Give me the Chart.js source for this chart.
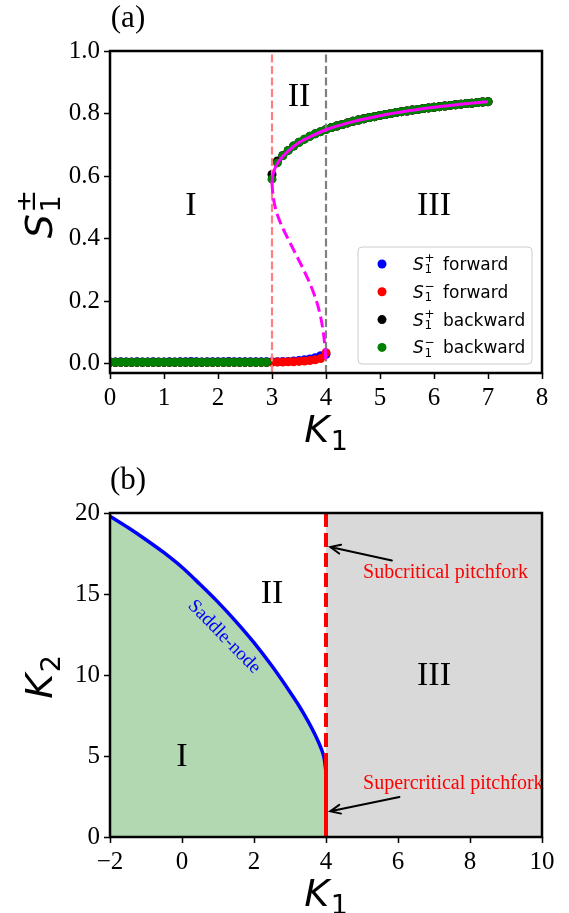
<!DOCTYPE html>
<html>
<head>
<meta charset="utf-8">
<script src="https://cdn.jsdelivr.net/npm/chart.js@4.4.0/dist/chart.umd.min.js"></script>
<style>
  html, body { margin: 0; padding: 0; background: #fff; }
  #wrap { position: relative; width: 569px; height: 913px; }
  .panel { position: absolute; left: 0; width: 569px; }
</style>
</head>
<body>
<div id="wrap">
  <div class="panel" style="top:0;height:456px"><canvas id="chartA"></canvas></div>
  <div class="panel" style="top:456px;height:457px"><canvas id="chartB"></canvas></div>
</div>
<script>
// ---- panel (a): order parameter vs K1 ----
const kGrid = [0,0.1,0.2,0.3,0.4,0.5,0.6,0.7,0.8,0.9,1,1.1,1.2,1.3,1.4,1.5,1.6,1.7,1.8,1.9,
  2,2.1,2.2,2.3,2.4,2.5,2.6,2.7,2.8,2.9,3,3.1,3.2,3.3,3.4,3.5,3.6,3.7,3.8,3.9,
  4,4.1,4.2,4.3,4.4,4.5,4.6,4.7,4.8,4.9,5,5.1,5.2,5.3,5.4,5.5,5.6,5.7,5.8,5.9,
  6,6.1,6.2,6.3,6.4,6.5,6.6,6.7,6.8,6.9,7];

const splusForward = [0.005,0.005,0.006,0.005,0.005,0.006,0.005,0.005,0.006,0.005,
  0.005,0.006,0.005,0.006,0.006,0.007,0.006,0.005,0.006,0.006,
  0.006,0.006,0.007,0.006,0.006,0.006,0.006,0.006,0.006,0.006,
  0.006,0.006,0.007,0.007,0.008,0.010,0.012,0.015,0.019,0.025,
  0.030,
  0.755,0.760,0.765,0.770,0.775,0.779,0.783,0.787,0.790,0.794,
  0.797,0.800,0.803,0.806,0.808,0.811,0.813,0.816,0.818,0.820,
  0.822,0.824,0.826,0.828,0.830,0.832,0.833,0.835,0.837,0.838];

const sminusForward = [0.004,0.004,0.004,0.004,0.004,0.004,0.004,0.004,0.004,0.004,
  0.004,0.004,0.004,0.004,0.004,0.004,0.004,0.004,0.004,0.004,
  0.004,0.004,0.004,0.004,0.004,0.004,0.004,0.004,0.004,0.004,
  0.004,0.005,0.005,0.006,0.006,0.007,0.008,0.010,0.012,0.016,
  0.035,
  0.755,0.760,0.765,0.770,0.775,0.779,0.783,0.787,0.790,0.794,
  0.797,0.800,0.803,0.806,0.808,0.811,0.813,0.816,0.818,0.820,
  0.822,0.824,0.826,0.828,0.830,0.832,0.833,0.835,0.837,0.838];

const splusBackward = [0.004,0.004,0.004,0.004,0.004,0.004,0.004,0.004,0.004,0.004,
  0.004,0.004,0.004,0.004,0.004,0.004,0.004,0.004,0.004,0.004,
  0.004,0.004,0.004,0.004,0.004,0.004,0.004,0.004,0.004,0.004,
  0.605,0.648,0.666,0.682,0.696,0.708,0.718,0.727,0.735,0.742,
  0.749,
  0.755,0.760,0.765,0.770,0.775,0.779,0.783,0.787,0.790,0.794,
  0.797,0.800,0.803,0.806,0.808,0.811,0.813,0.816,0.818,0.820,
  0.822,0.824,0.826,0.828,0.830,0.832,0.833,0.835,0.837,0.838];

const sminusBackward = [0.004,0.004,0.004,0.004,0.004,0.004,0.004,0.004,0.004,0.004,
  0.004,0.004,0.004,0.004,0.004,0.004,0.004,0.004,0.004,0.004,
  0.004,0.004,0.004,0.004,0.004,0.004,0.004,0.004,0.004,0.004,
  0.590,0.642,0.665,0.682,0.696,0.708,0.718,0.727,0.735,0.742,
  0.749,
  0.755,0.760,0.765,0.770,0.775,0.779,0.783,0.787,0.790,0.794,
  0.797,0.800,0.803,0.806,0.808,0.811,0.813,0.816,0.818,0.820,
  0.822,0.824,0.826,0.828,0.830,0.832,0.833,0.835,0.837,0.838];

// theory curves (stable upper branch, unstable middle branch)
const stableK = [3.0,3.01,3.03,3.06,3.1,3.2,3.3,3.5,3.75,4.0,4.5,5.0,5.5,6.0,6.5,7.0];
const stableS = [0.58,0.598,0.612,0.627,0.640,0.663,0.680,0.707,0.729,0.748,0.774,0.793,0.808,0.820,0.830,0.838];
const unstableK = [3.0,3.01,3.03,3.07,3.13,3.2,3.3,3.4,3.5,3.6,3.7,3.78,3.85,3.9,3.94,3.97,4.0];
const unstableS = [0.58,0.553,0.525,0.493,0.462,0.433,0.398,0.364,0.330,0.295,0.257,0.222,0.185,0.150,0.112,0.072,0.010];

const boundaryK = [3, 4];
const yLimA = [-0.03, 1.0];
const xTicksA = [0,1,2,3,4,5,6,7,8];
const yTicksA = [0,0.2,0.4,0.6,0.8,1.0];
const regionNames = ['I', 'II', 'III'];
const regionXA = [1.5, 3.5, 6.0];
const regionYA = [0.51, 0.86, 0.51];
const legendSup = ['+', '\u2212', '+', '\u2212'];
const legendWord = ['forward', 'forward', 'backward', 'backward'];
const legendColors = ['#0000ff', '#ff0000', '#000000', '#008000'];

// ---- panel (b): phase diagram in (K1, K2) ----
const saddleK1 = [-2,-1.5,-1,-0.5,0,0.5,1,1.5,2,2.5,3,3.25,3.5,3.7,3.85,3.95,4.0];
const saddleK2 = [19.8,19.1,18.35,17.55,16.65,15.6,14.5,13.3,12.0,10.55,8.95,8.1,7.15,6.3,5.55,4.85,4.0];
const superK2 = [0, 5];
const subK2 = [20, 5];
const grayK1 = [4, 10];
const grayK2 = [20, 20];
const xTicksB = [-2,0,2,4,6,8,10];
const yTicksB = [0,5,10,15,20];
const regionXB = [0, 2.5, 7];
const regionYB = [5.05, 15.15, 10.1];
const noteText = ['Subcritical pitchfork', 'Supercritical pitchfork'];
const noteX = [5.03, 5.03];
const noteY = [16.33, 3.3];
const arrowTailX = [5.83, 6.04];
const arrowTailY = [17.07, 2.47];
const arrowHeadX = [4.12, 4.12];
const arrowHeadY = [17.9, 1.59];
const saddleLabel = 'Saddle-node';
const saddleLabelAt = [1.17, 12.35];

const SERIF = '"Liberation Serif", "Times New Roman", serif';
const SANS = '"DejaVu Sans", sans-serif';

function pts(xs, ys) {
  return xs.map((x, i) => ({ x: x, y: ys[i] }));
}

function dots(label, ys, color, order) {
  return {
    label: label, data: pts(kGrid, ys), order: order,
    backgroundColor: color, borderColor: color,
    pointRadius: 4.5, pointBorderWidth: 0, showLine: false
  };
}

function lineSet(label, xs, ys, color, width, dash, order) {
  return {
    label: label, data: pts(xs, ys), order: order, showLine: true,
    borderColor: color, borderWidth: width, borderDash: dash || [],
    pointRadius: 0, fill: false
  };
}

function tickAxis(min, max, ticks, fmt, size, isX) {
  const axis = {
    type: 'linear', min: min, max: max,
    afterBuildTicks: s => { s.ticks = ticks.map(v => ({ value: v })); },
    border: { display: false },
    grid: { display: true, drawOnChartArea: false, drawTicks: true, tickLength: 6,
            tickColor: '#000', tickWidth: 1.5, color: '#000' },
    ticks: { color: '#000', font: { family: SERIF, size: 25 }, padding: 4,
             autoSkip: false, maxRotation: 0, callback: fmt }
  };
  if (isX) axis.afterFit = s => { s.height = size; };
  else axis.afterFit = s => { s.width = size; };
  return axis;
}

// math text: italic base with roman sub/superscript
function measureMath(ctx, base, sub, sup, size) {
  ctx.font = 'italic ' + size + 'px ' + SANS;
  const wb = ctx.measureText(base).width;
  ctx.font = Math.round(size * 0.7) + 'px ' + SANS;
  const ws = Math.max(sub ? ctx.measureText(sub).width : 0, sup ? ctx.measureText(sup).width : 0);
  return { wb: wb, total: wb + size * 0.04 + ws };
}

function drawMath(ctx, base, sub, sup, x, y, size) {
  const m = measureMath(ctx, base, sub, sup, size);
  ctx.textAlign = 'left';
  ctx.textBaseline = 'alphabetic';
  ctx.fillStyle = '#000';
  ctx.font = 'italic ' + size + 'px ' + SANS;
  ctx.fillText(base, x, y);
  ctx.font = Math.round(size * 0.7) + 'px ' + SANS;
  const sx = x + m.wb + size * 0.04;
  if (sub) ctx.fillText(sub, sx, y + size * 0.2);
  if (sup) ctx.fillText(sup, sx, y - size * 0.45);
  return m.total;
}

function drawXTitle(chart, base, sub) {
  const { ctx, chartArea: a } = chart;
  ctx.save();
  const m = measureMath(ctx, base, sub, null, 38);
  drawMath(ctx, base, sub, null, (a.left + a.right) / 2 - m.total / 2, a.bottom + 69, 38);
  ctx.restore();
}

function drawYTitle(chart, base, sub, sup) {
  const { ctx, chartArea: a } = chart;
  ctx.save();
  ctx.translate(52, (a.top + a.bottom) / 2 + 2);
  ctx.rotate(-Math.PI / 2);
  const m = measureMath(ctx, base, sub, sup, 38);
  drawMath(ctx, base, sub, sup, -m.total / 2, 0, 38);
  ctx.restore();
}

function drawFrame(chart) {
  const { ctx, chartArea: a } = chart;
  ctx.save();
  ctx.strokeStyle = '#000';
  ctx.lineWidth = 2.5;
  ctx.strokeRect(a.left, a.top, a.right - a.left, a.bottom - a.top);
  ctx.restore();
}

function drawPanelTag(chart, tag) {
  const { ctx, chartArea: a } = chart;
  ctx.save();
  ctx.font = '31px ' + SERIF;
  ctx.fillStyle = '#000';
  ctx.textAlign = 'center';
  ctx.textBaseline = 'middle';
  ctx.fillText(tag, a.left + 18, a.top - 32);
  ctx.restore();
}

function drawRegions(chart, xs, ys) {
  const { ctx, scales } = chart;
  ctx.save();
  ctx.font = '34px ' + SERIF;
  ctx.fillStyle = '#000';
  ctx.textAlign = 'center';
  ctx.textBaseline = 'alphabetic';
  regionNames.forEach((t, i) => {
    ctx.fillText(t, scales.x.getPixelForValue(xs[i]), scales.y.getPixelForValue(ys[i]) + 34 * 0.33);
  });
  ctx.restore();
}

function drawLegend(chart) {
  const { ctx, chartArea: a } = chart;
  const w = 174, h = 117;
  const left = a.right - 10 - w, top = a.bottom - 9 - h;
  ctx.save();
  ctx.beginPath();
  ctx.roundRect(left, top, w, h, 4);
  ctx.fillStyle = 'rgba(255,255,255,0.8)';
  ctx.fill();
  ctx.strokeStyle = '#cccccc';
  ctx.lineWidth = 1;
  ctx.stroke();
  legendWord.forEach((word, i) => {
    const cy = top + 17 + i * 27.8;
    ctx.beginPath();
    ctx.arc(left + 24, cy, 4.5, 0, Math.PI * 2);
    ctx.fillStyle = legendColors[i];
    ctx.fill();
    drawMath(ctx, 'S', '1', legendSup[i], left + 55, cy + 6, 17);
    ctx.font = '17px ' + SANS;
    ctx.fillText(word, left + 85, cy + 6);
  });
  ctx.restore();
}

const decorA = {
  id: 'decorA',
  afterDatasetsDraw(chart) {
    drawRegions(chart, regionXA, regionYA);
  },
  afterDraw(chart) {
    drawFrame(chart);
    drawLegend(chart);
    drawXTitle(chart, 'K', '1');
    drawYTitle(chart, 'S', '1', '\u00b1');
    drawPanelTag(chart, '(a)');
  }
};

const decorB = {
  id: 'decorB',
  afterDatasetsDraw(chart) {
    const { ctx, scales } = chart;
    drawRegions(chart, regionXB, regionYB);
    ctx.save();
    // notes
    ctx.font = '20px ' + SERIF;
    ctx.fillStyle = '#ff0000';
    ctx.textAlign = 'left';
    ctx.textBaseline = 'middle';
    noteText.forEach((t, i) => {
      ctx.fillText(t, scales.x.getPixelForValue(noteX[i]), scales.y.getPixelForValue(noteY[i]));
    });
    // arrows
    ctx.strokeStyle = '#000';
    ctx.lineWidth = 2;
    ctx.lineCap = 'round';
    arrowTailX.forEach((tx, i) => {
      const x0 = scales.x.getPixelForValue(tx), y0 = scales.y.getPixelForValue(arrowTailY[i]);
      const x1 = scales.x.getPixelForValue(arrowHeadX[i]), y1 = scales.y.getPixelForValue(arrowHeadY[i]);
      const ang = Math.atan2(y1 - y0, x1 - x0);
      ctx.beginPath();
      ctx.moveTo(x0, y0);
      ctx.lineTo(x1, y1);
      ctx.moveTo(x1 - 11 * Math.cos(ang - 0.42), y1 - 11 * Math.sin(ang - 0.42));
      ctx.lineTo(x1, y1);
      ctx.lineTo(x1 - 11 * Math.cos(ang + 0.42), y1 - 11 * Math.sin(ang + 0.42));
      ctx.stroke();
    });
    // label along the saddle-node curve
    ctx.translate(scales.x.getPixelForValue(saddleLabelAt[0]), scales.y.getPixelForValue(saddleLabelAt[1]));
    ctx.rotate(45.6 * Math.PI / 180);
    ctx.font = '19px ' + SERIF;
    ctx.fillStyle = '#0000ff';
    ctx.textAlign = 'center';
    ctx.fillText(saddleLabel, 0, 0);
    ctx.restore();
  },
  afterDraw(chart) {
    drawFrame(chart);
    drawXTitle(chart, 'K', '1');
    drawYTitle(chart, 'K', '2', null);
    drawPanelTag(chart, '(b)');
  }
};

const minusFmt = v => (v < 0 ? '\u2212' + Math.abs(v) : String(v));
const smooth = { cubicInterpolationMode: 'monotone' };

new Chart(document.getElementById('chartA'), {
  type: 'scatter',
  data: {
    datasets: [
      Object.assign(lineSet('stable', stableK, stableS, '#ff00ff', 3, null, 0), smooth),
      Object.assign(lineSet('unstable', unstableK, unstableS, '#ff00ff', 3, [11, 5], 1), smooth),
      lineSet('K1=4', [boundaryK[1], boundaryK[1]], yLimA, '#808080', 2.2, [8, 3.5], 2),
      lineSet('K1=3', [boundaryK[0], boundaryK[0]], yLimA, '#ff8080', 2.2, [8, 3.5], 3),
      dots('S1- backward', sminusBackward, '#008000', 4),
      dots('S1+ backward', splusBackward, '#000000', 5),
      dots('S1- forward', sminusForward, '#ff0000', 6),
      dots('S1+ forward', splusForward, '#0000ff', 7)
    ]
  },
  options: {
    responsive: true,
    maintainAspectRatio: false,
    animation: false,
    events: [],
    layout: { padding: { left: 0, right: 27, top: 51, bottom: 0 } },
    plugins: { legend: { display: false }, tooltip: { enabled: false } },
    scales: {
      x: tickAxis(0, 8, xTicksA, v => String(v), 83, true),
      y: tickAxis(yLimA[0], yLimA[1], yTicksA, v => v.toFixed(1), 110, false)
    }
  },
  plugins: [decorA]
});

new Chart(document.getElementById('chartB'), {
  type: 'scatter',
  data: {
    datasets: [
      lineSet('supercritical', [4, 4], superK2, '#ff0000', 4, null, 0),
      lineSet('subcritical', [4, 4], subK2, '#ff0000', 4, [14, 6], 1),
      Object.assign(lineSet('saddle-node', saddleK1, saddleK2, '#0000ff', 3.5, null, 2),
        { fill: 'origin', backgroundColor: 'rgb(178,216,178)' }, smooth),
      Object.assign(lineSet('region III', grayK1, grayK2, 'rgba(0,0,0,0)', 0, null, 3),
        { fill: 'origin', backgroundColor: 'rgb(217,217,217)' })
    ]
  },
  options: {
    responsive: true,
    maintainAspectRatio: false,
    animation: false,
    events: [],
    layout: { padding: { left: 0, right: 27, top: 57, bottom: 0 } },
    plugins: { legend: { display: false }, tooltip: { enabled: false } },
    scales: {
      x: tickAxis(-2, 10, xTicksB, minusFmt, 76, true),
      y: tickAxis(0, 20, yTicksB, v => String(v), 110, false)
    }
  },
  plugins: [decorB]
});
</script>
</body>
</html>
